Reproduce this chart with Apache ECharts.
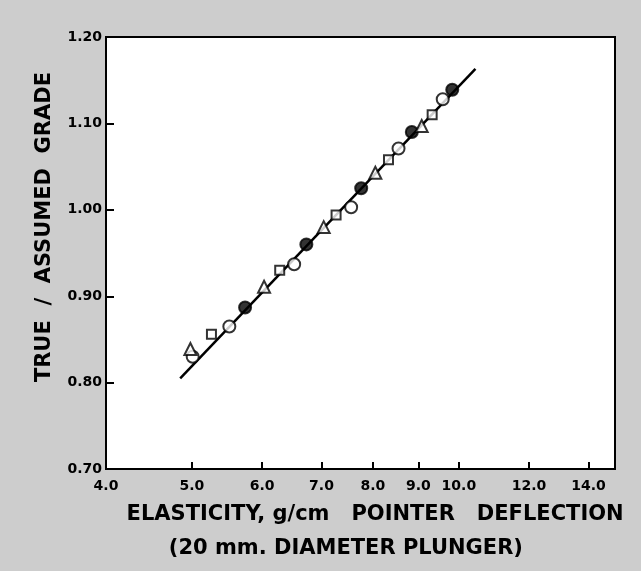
<!DOCTYPE html>
<html>
<head>
<meta charset="utf-8">
<script src="https://cdn.jsdelivr.net/npm/echarts@6/dist/echarts.min.js"></script>
<style>
html, body { margin: 0; padding: 0; background: #cdcdcd; }
#main { width: 641px; height: 571px; }
</style>
</head>
<body>
<div id="main"></div>
<script>
var chart = echarts.init(document.getElementById('main'));

// elasticity (g/cm pointer deflection) and true / assumed grade
var openCircleX = [5.01, 5.51, 6.52, 7.56, 8.55, 9.59];
var openCircleY = [0.830, 0.865, 0.937, 1.003, 1.071, 1.128];
var filledCircleX = [5.74, 6.73, 7.76, 8.85, 9.83];
var filledCircleY = [0.887, 0.960, 1.025, 1.090, 1.139];
var triangleX = [4.98, 6.03, 7.04, 8.05, 9.08];
var triangleY = [0.839, 0.911, 0.980, 1.043, 1.097];
var squareX = [5.26, 6.28, 7.27, 8.33, 9.33];
var squareY = [0.856, 0.930, 0.994, 1.058, 1.110];
var fitLineX = [4.85, 10.44];
var fitLineY = [0.805, 1.163];

var xTicks = [4, 5, 6, 7, 8, 9, 10, 12, 14];
var xRange = [4, 15];
var yRange = [0.7, 1.2];

// the x axis is logarithmic: plot log10 of the values on a value axis
function toPoints(xs, ys) {
    return xs.map(function (x, i) {
        return [Math.log10(x), ys[i]];
    });
}

var tickValues = xTicks.map(function (t) { return Math.log10(t); });

var font = 'DejaVu Sans';
var nb4 = '\u00a0\u00a0\u00a0\u00a0';

function markerSeries(name, symbol, size, fill, xs, ys) {
    return {
        name: name,
        type: 'scatter',
        symbol: symbol,
        symbolSize: size,
        z: 3,
        itemStyle: {
            color: fill,
            borderColor: '#000',
            borderWidth: 2
        },
        data: toPoints(xs, ys)
    };
}

var option = {
    backgroundColor: '#cdcdcd',
    animation: false,
    grid: {
        left: 106,
        right: 26,
        top: 37,
        bottom: 93,
        show: true,
        backgroundColor: '#fff',
        borderColor: '#000',
        borderWidth: 2
    },
    xAxis: {
        type: 'value',
        min: Math.log10(xRange[0]),
        max: Math.log10(xRange[1]),
        name: nb4 + 'ELASTICITY, g/cm   POINTER   DEFLECTION\n(20 mm. DIAMETER PLUNGER)' + nb4,
        nameLocation: 'middle',
        nameGap: 24,
        nameTextStyle: {
            fontFamily: font,
            fontWeight: 'bold',
            fontSize: 21,
            lineHeight: 34,
            color: '#000'
        },
        axisLine: { lineStyle: { color: '#000', width: 2 } },
        axisTick: {
            inside: true,
            length: 7,
            customValues: tickValues,
            lineStyle: { color: '#000', width: 2 }
        },
        axisLabel: {
            customValues: tickValues,
            margin: 10,
            fontFamily: font,
            fontWeight: 'bold',
            fontSize: 14,
            color: '#000',
            formatter: function (v) {
                return Math.pow(10, v).toFixed(1);
            }
        },
        splitLine: { show: false }
    },
    yAxis: {
        type: 'value',
        min: yRange[0],
        max: yRange[1],
        interval: 0.1,
        name: 'TRUE  /  ASSUMED  GRADE',
        nameLocation: 'middle',
        nameGap: 51,
        nameTextStyle: {
            fontFamily: font,
            fontWeight: 'bold',
            fontSize: 21,
            color: '#000',
            padding: [0, 0, 0, 52]
        },
        axisLine: { lineStyle: { color: '#000', width: 2 } },
        axisTick: {
            inside: true,
            length: 8,
            lineStyle: { color: '#000', width: 2 }
        },
        axisLabel: {
            margin: 4,
            fontFamily: font,
            fontWeight: 'bold',
            fontSize: 14,
            color: '#000',
            formatter: function (v) {
                return v.toFixed(2);
            }
        },
        splitLine: { show: false }
    },
    series: [
        {
            name: 'fit',
            type: 'line',
            showSymbol: false,
            z: 2,
            lineStyle: { color: '#000', width: 2.5 },
            data: toPoints(fitLineX, fitLineY)
        },
        markerSeries('open circle', 'circle', 12, '#fff', openCircleX, openCircleY),
        markerSeries('filled circle', 'circle', 12, '#000', filledCircleX, filledCircleY),
        markerSeries('triangle', 'triangle', 12, '#fff', triangleX, triangleY),
        markerSeries('square', 'rect', 9, '#fff', squareX, squareY)
    ]
};

chart.setOption(option);
</script>
</body>
</html>
